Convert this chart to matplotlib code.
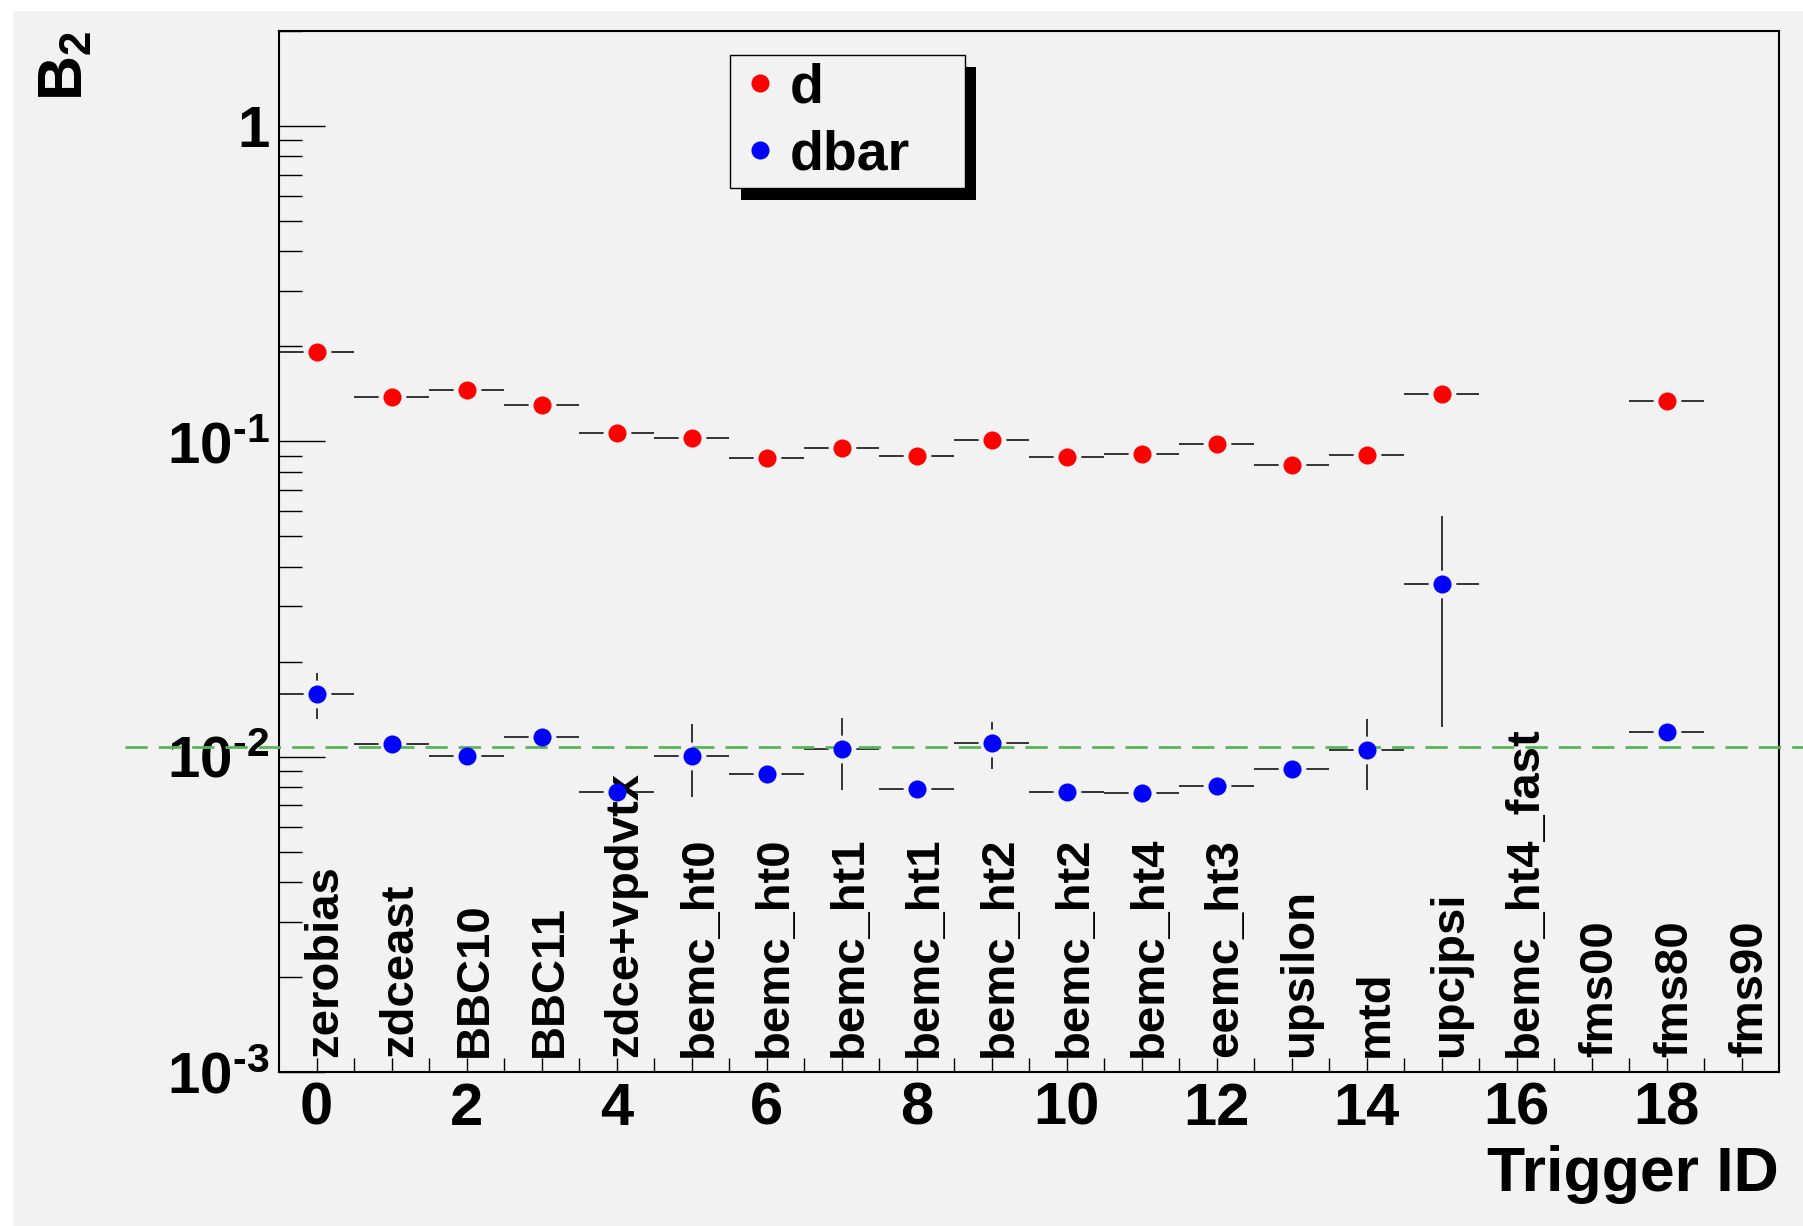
import numpy as np
import matplotlib

matplotlib.use("Agg")
import matplotlib.pyplot as plt
from matplotlib.patches import Rectangle
from matplotlib.ticker import FixedLocator, FixedFormatter, LogLocator, NullFormatter
from matplotlib.transforms import IdentityTransform

# ROOT-like bold Helvetica look
plt.rcParams["font.family"] = "Liberation Sans"
plt.rcParams["font.weight"] = "bold"
plt.rcParams["mathtext.fontset"] = "custom"
plt.rcParams["mathtext.rm"] = "Liberation Sans:bold"
plt.rcParams["mathtext.it"] = "Liberation Sans:bold"
plt.rcParams["mathtext.bf"] = "Liberation Sans:bold"
plt.rcParams["mathtext.default"] = "rm"

nan = np.nan

# Data
trigger_id = np.arange(20)
trigger_names = [
    "zerobias", "zdceast", "BBC10", "BBC11", "zdce+vpdvtx",
    "bemc_ht0", "bemc_ht0", "bemc_ht1", "bemc_ht1", "bemc_ht2",
    "bemc_ht2", "bemc_ht4", "eemc_ht3", "upsilon", "mtd",
    "upcjpsi", "bemc_ht4_fast", "fms00", "fms80", "fms90",
]
d_b2 = [0.1915, 0.1385, 0.1452, 0.1306, 0.1065, 0.1027, 0.0885, 0.0955, 0.0898, 0.1012,
        0.0894, 0.0912, 0.0978, 0.0841, 0.0907, 0.1413, nan, nan, 0.1342, nan]
d_b2_err = [0.003, 0.002, 0.002, 0.002, 0.002, 0.002, 0.002, 0.002, 0.002, 0.002,
            0.002, 0.002, 0.002, 0.002, 0.002, 0.003, nan, nan, 0.003, nan]
dbar_b2 = [0.01576, 0.01094, 0.01005, 0.01156, 0.00774, 0.01005, 0.00883, 0.01055, 0.00789, 0.01102,
           0.00773, 0.00769, 0.00809, 0.00916, 0.01051, 0.03526, nan, nan, 0.01197, nan]
dbar_b2_err = [0.0026, 0.0004, 0.0003, 0.0004, 0.0002, 0.0026, 0.0003, 0.0027, 0.0003, 0.0019,
               0.0002, 0.0002, 0.0003, 0.0004, 0.0027, 0.0228, nan, nan, 0.0005, nan]
reference_b2 = 0.01071

y_ticks = [1e-3, 1e-2, 1e-1, 1.0]
y_tick_labels = [r"$10^{\text{-}3}$", r"$10^{\text{-}2}$", r"$10^{\text{-}1}$", "1"]

pad_grey = "#f2f2f2"
W, H = 1803, 1226

fig = plt.figure(figsize=(W / 100, H / 100), dpi=100, facecolor="white")
# Grey canvas pad (thin white strip on top and left like the original)
fig.patches.append(
    Rectangle((13 / W, 0), 1 - 13 / W, 1 - 11 / H, transform=fig.transFigure,
              facecolor=pad_grey, edgecolor="none", zorder=-10)
)

ax = fig.add_axes([279 / W, 1 - 1072 / H, 1500 / W, 1041 / H])
ax.set_facecolor(pad_grey)
ax.set_yscale("log")
ax.set_xlim(-0.5, 19.5)
ax.set_ylim(1e-3, 2.0)

# Error bars (full bin width horizontally), gap around the marker like ROOT
for vals, errs in [(d_b2, d_b2_err), (dbar_b2, dbar_b2_err)]:
    ax.errorbar(trigger_id, vals, xerr=0.5, yerr=errs, fmt="none", ecolor="black",
                elinewidth=1.1, capsize=0, zorder=2)
    ax.plot(trigger_id, vals, linestyle="none", marker="o", markersize=20,
            markerfacecolor=pad_grey, markeredgewidth=0, zorder=3)

# Reference line
ax.plot([-2.55, 21], [reference_b2, reference_b2], color="#5ab55a", linewidth=2,
        dashes=(8, 4), clip_on=False, zorder=4)

d_line, = ax.plot(trigger_id, d_b2, linestyle="none", marker="o", markersize=13,
                  color="red", markeredgewidth=0, label="d", zorder=4.5)
dbar_line, = ax.plot(trigger_id, dbar_b2, linestyle="none", marker="o", markersize=13,
                     color="blue", markeredgewidth=0, label="dbar", zorder=4.5)

# Axes styling
for spine in ax.spines.values():
    spine.set_linewidth(1.5)
    spine.set_color("black")

ax.set_xticks(range(0, 19, 2))
ax.set_xticks(np.arange(0, 19.1, 0.5), minor=True)
ax.yaxis.set_major_locator(FixedLocator(y_ticks))
ax.yaxis.set_major_formatter(FixedFormatter(y_tick_labels))
ax.yaxis.set_minor_locator(LogLocator(base=10, subs=np.arange(2, 10), numticks=20))
ax.yaxis.set_minor_formatter(NullFormatter())

ax.tick_params(axis="both", which="both", direction="in", top=False, right=False)
ax.tick_params(axis="x", which="both", length=10, width=1, labelsize=43, pad=7)
ax.tick_params(axis="y", which="major", length=33, width=1, labelsize=42, pad=7)
ax.tick_params(axis="y", which="minor", length=16.5, width=1)

# Vertical trigger names inside the frame
for i, name in zip(trigger_id, trigger_names):
    ax.annotate(name, xy=(i, 0), xycoords=("data", "axes fraction"),
                xytext=(15, 10.5), textcoords="offset points", rotation=90,
                rotation_mode="anchor", ha="left", va="baseline",
                fontsize=34, fontweight="bold")

ax.set_xlabel("Trigger ID", fontsize=45, fontweight="bold", loc="right")
ax.xaxis.set_label_coords(1.0, -0.070)
ax.set_ylabel("$B_{2}$", fontsize=45, fontweight="bold", loc="top")
ax.yaxis.set_label_coords(-0.1226, 1.0)

# Legend with a ROOT-style solid shadow
leg = ax.legend(handles=[d_line, dbar_line], loc="upper left",
                bbox_to_anchor=(730 / W, 1 - 190 / H, 235 / W, 135 / H),
                bbox_transform=fig.transFigure, mode="expand", borderaxespad=0,
                fontsize=40, frameon=True, fancybox=False, facecolor=pad_grey,
                edgecolor="black", framealpha=1, borderpad=0.13, labelspacing=0.27,
                handlelength=0.82, handletextpad=0.13, numpoints=1)
leg.get_frame().set_linewidth(1)
leg.set_zorder(6)

fig.canvas.draw()
bb = leg.get_window_extent()
ax.add_patch(Rectangle((bb.x0 + 11, bb.y0 - 12), bb.width, bb.height,
                       transform=IdentityTransform(), facecolor="black",
                       edgecolor="none", clip_on=False, zorder=5.5))

fig.savefig("out.png", dpi=100, facecolor=fig.get_facecolor())
